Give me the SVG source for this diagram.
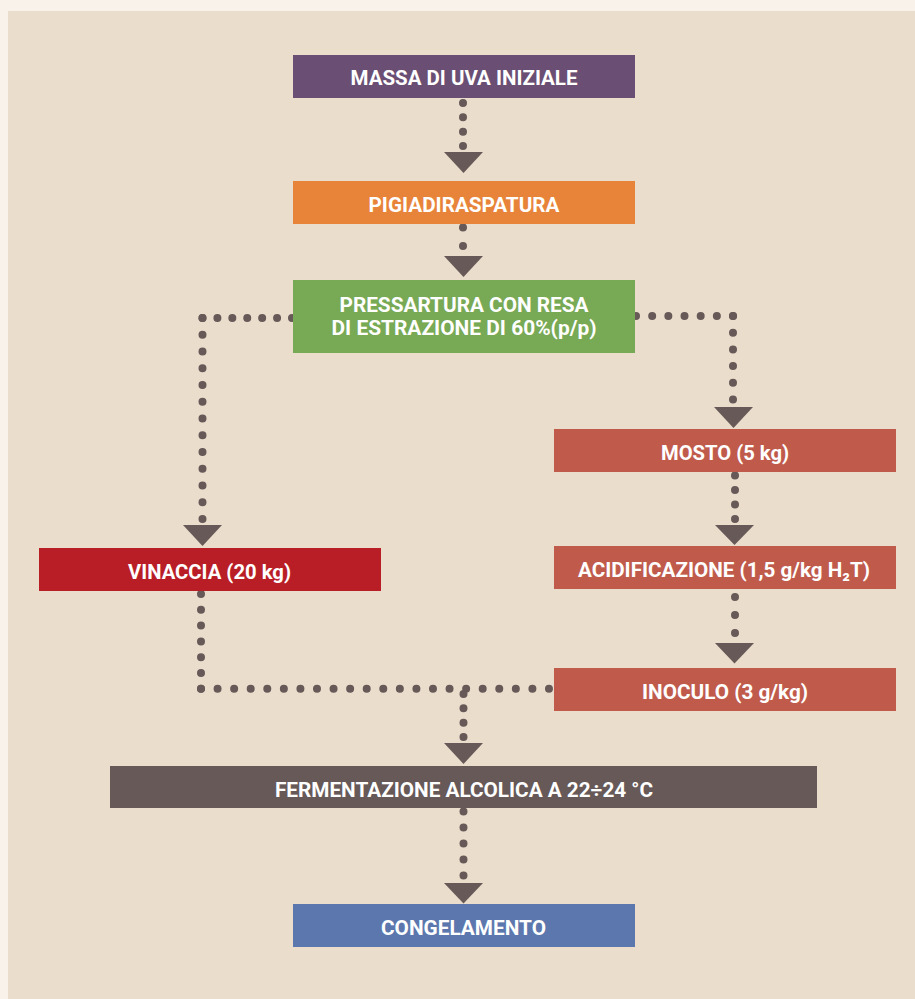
<svg xmlns="http://www.w3.org/2000/svg" width="915" height="999" viewBox="0 0 915 999">
<style>
.t{font-family:Roboto,"DejaVu Sans",sans-serif;font-weight:bold;font-size:21px;fill:#ffffff;text-anchor:middle}
.d{fill:none;stroke:#665957;stroke-width:8;stroke-linecap:round}
.a{fill:#665957}
</style>
<rect x="0" y="0" width="915" height="999" fill="#f8f2ea"/>
<rect x="8" y="11" width="907" height="988" fill="#eaddcc"/>
<g id="connectors">
<line class="d" x1="463" y1="103" x2="463" y2="147" stroke-dasharray="0 14.33"/>
<polygon class="a" points="444,152 483,152 463.5,173"/>
<line class="d" x1="463" y1="227.5" x2="463" y2="247" stroke-dasharray="0 18.5"/>
<polygon class="a" points="444,256 483,256 463.5,277"/>
<line class="d" x1="636" y1="316" x2="734" y2="316" stroke-dasharray="0 16.17"/>
<line class="d" x1="733" y1="316" x2="733" y2="400.5" stroke-dasharray="0 16.7"/>
<polygon class="a" points="714,407 753,407 733.5,428"/>
<line class="d" x1="292" y1="318" x2="201.5" y2="318" stroke-dasharray="0 14.92"/>
<line class="d" x1="202.5" y1="318" x2="202.5" y2="520" stroke-dasharray="0 16.75"/>
<polygon class="a" points="183,525 222,525 202.5,546"/>
<line class="d" x1="201" y1="594" x2="201" y2="689.8" stroke-dasharray="0 15.8"/>
<line class="d" x1="201" y1="688.8" x2="550" y2="688.8" stroke-dasharray="0 16.57"/>
<line class="d" x1="463.5" y1="694" x2="463.5" y2="738" stroke-dasharray="0 14.33"/>
<polygon class="a" points="444,743 483,743 463.5,764"/>
<line class="d" x1="735" y1="475.5" x2="735" y2="520" stroke-dasharray="0 14.5"/>
<polygon class="a" points="715,525 754,525 734.5,545"/>
<line class="d" x1="735" y1="597" x2="735" y2="634" stroke-dasharray="0 18"/>
<polygon class="a" points="715,643 754,643 734.5,663.5"/>
<line class="d" x1="463.5" y1="811.5" x2="463.5" y2="876.5" stroke-dasharray="0 16"/>
<polygon class="a" points="444,883 483,883 463.5,903.5"/>
</g>
<g id="massa"><rect x="293" y="55" width="342" height="43" fill="#6a4e73"/><text class="t" x="464" y="85" textLength="227" lengthAdjust="spacingAndGlyphs">MASSA DI UVA INIZIALE</text></g>
<g id="pigiadiraspatura"><rect x="293" y="181" width="342" height="43" fill="#e8843a"/><text class="t" x="464" y="212" textLength="191" lengthAdjust="spacingAndGlyphs">PIGIADIRASPATURA</text></g>
<g id="pressatura"><rect x="293" y="280" width="342" height="73" fill="#78a955"/><text class="t" x="464" y="311.5" textLength="249" lengthAdjust="spacingAndGlyphs">PRESSARTURA CON RESA</text><text class="t" x="464" y="335" textLength="265" lengthAdjust="spacingAndGlyphs">DI ESTRAZIONE DI 60%(p/p)</text></g>
<g id="mosto"><rect x="554" y="429" width="342" height="43" fill="#c05b4c"/><text class="t" x="725" y="460" textLength="128" lengthAdjust="spacingAndGlyphs">MOSTO (5 kg)</text></g>
<g id="acidificazione"><rect x="554" y="546" width="342" height="43" fill="#c05b4c"/><text class="t" x="724" y="577" textLength="292" lengthAdjust="spacingAndGlyphs">ACIDIFICAZIONE (1,5 g/kg H₂T)</text></g>
<g id="inoculo"><rect x="554" y="668" width="342" height="43" fill="#c05b4c"/><text class="t" x="725" y="699" textLength="166" lengthAdjust="spacingAndGlyphs">INOCULO (3 g/kg)</text></g>
<g id="vinaccia"><rect x="39" y="548" width="342" height="43" fill="#b91e27"/><text class="t" x="209.5" y="579" textLength="163" lengthAdjust="spacingAndGlyphs">VINACCIA (20 kg)</text></g>
<g id="fermentazione"><rect x="110" y="766" width="707" height="42" fill="#665957"/><text class="t" x="464" y="797" textLength="378" lengthAdjust="spacingAndGlyphs">FERMENTAZIONE ALCOLICA A 22÷24 °C</text></g>
<g id="congelamento"><rect x="293" y="904" width="342" height="43" fill="#5b77ae"/><text class="t" x="463.5" y="935" textLength="165" lengthAdjust="spacingAndGlyphs">CONGELAMENTO</text></g>
</svg>
